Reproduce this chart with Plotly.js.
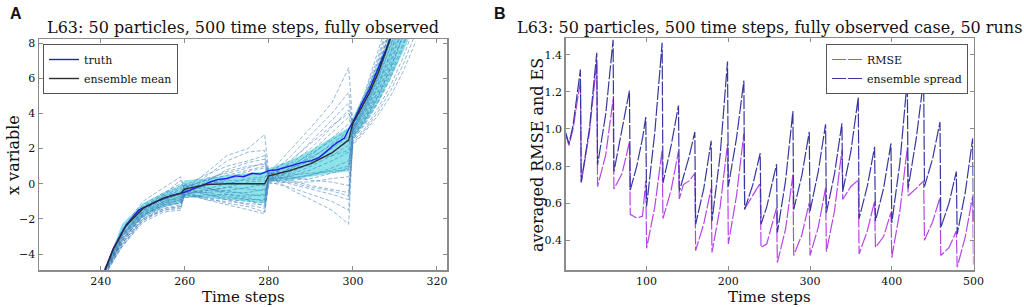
<!DOCTYPE html>
<html>
<head>
<meta charset="utf-8">
<script src="https://cdn.plot.ly/plotly-3.0.1.min.js"></script>
<style>html,body{margin:0;padding:0;background:#fff;}#chart{width:1024px;height:307px;}</style>
</head>
<body>
<div id="chart"></div>
<script>
// ---------- Panel A: L63 particle filter, x variable ----------
const tTruth = [241,243,246,249,253,257,260,262,264,266,268,270,272,274,276,278,280,282,284,286,288,290,292,294,296,298,299,300,302,304,306,308,309];
const truthX = [-4.88,-3.66,-2.35,-1.5,-1.03,-0.66,-0.47,-0.3,-0.1,0.1,0.25,0.3,0.45,0.4,0.6,0.55,0.75,0.8,0.94,1.05,1.22,1.3,1.5,1.9,2.3,2.6,3.1,3.5,4.5,5.4,6.5,7.7,8.4];
const tMean = [241,243,246,250,255,259,260,265,270,275,279,280,285,290,295,299,300,302,304,306,308,309];
const meanX = [-4.9,-3.7,-2.4,-1.4,-0.8,-0.55,-0.3,-0.05,0.0,0.0,0.0,0.45,0.75,1.15,1.75,2.5,3.45,4.3,5.2,6.3,7.6,8.3];
const tBand = [241,245,250,255,259,260,265,270,275,279,280,285,290,295,299,300,303,306,309,312,315];
const bandLow = [-4.9,-3.0,-1.9,-1.3,-1.1,-0.8,-0.8,-0.9,-1.0,-1.1,0.1,0.2,0.4,0.6,0.7,2.6,3.5,4.6,6.0,7.5,9.2];
const bandHigh = [-4.9,-2.3,-1.1,-0.5,-0.1,0.2,0.3,0.5,0.6,0.7,0.9,1.3,1.9,2.6,3.2,3.8,5.2,6.8,8.6,10.5,12.0];
const tPart = [241,245,250,255,259,260,265,270,275,279,280,285,290,295,299,300,303,306,309,312,315];
const p01 = [-4.8,-2.6,-1.0,-0.2,0.4,-0.3,0.6,1.6,2.0,2.8,0.6,1.9,3.2,4.6,6.6,3.4,5.2,7.2,9.4,12,15];
const p02 = [-5.0,-3.0,-1.4,-0.6,0.2,-0.4,0.4,1.3,1.8,1.9,0.5,1.5,2.8,4.0,5.2,3.3,5.0,6.9,9.0,11.5,14];
const p03 = [-4.9,-2.9,-1.5,-0.8,-0.3,-0.5,0.1,0.8,1.2,1.4,0.4,1.2,2.4,3.6,4.6,3.1,4.6,6.4,8.4,10.8,13.5];
const p04 = [-5.0,-3.2,-1.7,-1.0,-0.5,-0.2,0.2,0.5,0.8,1.0,0.6,1.1,2.0,3.2,4.2,3.0,4.4,6.1,8.1,10.4,13];
const p05 = [-5.1,-3.3,-1.8,-1.1,-0.7,-0.3,-0.1,0.3,0.5,0.6,0.3,0.9,1.8,2.9,3.8,2.9,4.3,5.9,7.8,10.0,12.5];
const p06 = [-4.9,-3.1,-1.6,-0.9,-0.6,-0.6,-0.3,0.0,0.3,0.4,0.5,0.8,1.6,2.6,3.4,3.2,4.7,6.5,8.6,11,14];
const p07 = [-5.0,-3.4,-1.9,-1.2,-0.9,-0.4,-0.4,-0.2,0.1,0.2,0.2,0.7,1.4,2.3,3.0,2.8,4.0,5.5,7.2,9.3,11.8];
const p08 = [-5.2,-3.5,-2.0,-1.3,-1.0,-0.5,-0.5,-0.4,-0.2,0.0,0.4,0.6,1.2,2.0,2.7,2.7,3.8,5.2,6.8,8.8,11];
const p09 = [-5.0,-3.3,-1.8,-1.2,-1.1,-0.1,-0.2,-0.5,-0.5,-0.3,0.1,0.5,1.0,1.6,2.2,3.0,4.2,5.7,7.5,9.6,12];
const p10 = [-5.1,-3.6,-2.1,-1.4,-1.2,-0.7,-0.7,-0.6,-0.7,-0.6,0.3,0.4,0.8,1.3,1.8,2.6,3.6,4.9,6.4,8.3,10.5];
const p11 = [-4.9,-3.2,-1.7,-1.1,-0.8,-0.8,-0.6,-0.8,-0.9,-0.9,0.5,0.3,0.5,0.9,1.3,2.9,4.1,5.6,7.4,9.5,12];
const p12 = [-5.0,-3.4,-2.0,-1.5,-1.3,-0.6,-0.9,-1.0,-1.1,-1.2,0.2,0.2,0.3,0.6,0.9,2.5,3.4,4.6,6.0,7.8,10];
const p13 = [-5.2,-3.6,-2.2,-1.6,-1.5,-0.5,-0.8,-1.1,-1.3,-1.6,0.0,0.1,0.1,0.3,0.4,2.4,3.2,4.3,5.6,7.2,9.2];
const p14 = [-5.0,-3.2,-1.9,-1.3,-1.1,-0.3,-0.6,-0.9,-1.0,-1.1,0.6,0.4,0.2,0.1,-0.1,2.8,3.9,5.3,7.0,9.0,11.3];
const p15 = [-4.8,-3.0,-1.6,-1.0,-0.7,-0.2,-0.3,-0.4,-0.6,-0.7,0.4,0.2,-0.1,-0.3,-0.5,2.3,3.1,4.1,5.3,6.8,8.6];
const p16 = [-5.1,-3.3,-1.8,-1.1,-0.9,0.0,-0.2,-0.6,-0.8,-1.0,0.3,0.0,-0.3,-0.6,-0.9,2.2,3.0,3.9,5.0,6.4,8.1];
const p17 = [-5.0,-3.1,-1.7,-1.0,-0.8,-0.4,-0.9,-1.2,-1.5,-1.7,0.1,-0.2,-0.6,-1.0,-1.5,3.1,4.5,6.2,8.2,10.6,13.3];
const p18 = [-4.9,-3.0,-1.5,-0.8,-0.5,-0.5,-0.1,0.2,0.2,0.3,0.8,0.5,0.6,0.7,0.8,3.4,5.0,7.0,9.2,11.8,14.8];
const p19 = [-5.0,-3.4,-2.0,-1.4,-1.3,-0.6,-0.8,-0.9,-1.2,-1.4,0.4,-0.3,-0.9,-1.5,-2.3,2.6,3.7,5.0,6.6,8.5,10.8];
const p20 = [-4.9,-2.8,-1.3,-0.6,-0.1,-0.1,0.5,1.0,1.3,1.6,0.2,0.9,1.3,1.6,1.9,3.3,4.9,6.7,8.8,11.3,14.2];
const p21 = [-5.0,-3.0,-1.6,-0.7,-0.4,-0.7,0.3,0.6,0.9,1.2,0.7,1.3,2.3,3.3,4.0,3.5,5.3,7.5,9.8,12.5,15.5];
const p22 = [-5.1,-3.2,-1.8,-1.2,-0.9,-0.6,-0.4,-0.2,-0.3,-0.4,0.3,0.3,0.5,0.8,1.0,2.7,3.7,5.0,6.6,8.5,10.7];
const p23 = [-4.9,-2.7,-1.2,-0.5,0.0,-0.2,0.2,0.7,1.0,1.1,0.5,1.0,1.7,2.5,3.1,3.2,4.8,6.6,8.7,11.1,13.9];
const p24 = [-5.0,-3.1,-1.5,-0.9,-0.6,-0.3,0.0,0.1,0.0,-0.1,0.6,0.7,1.1,1.8,2.4,3.0,4.3,6.0,7.9,10.1,12.8];
const p25 = [-5.1,-3.5,-2.1,-1.5,-1.4,-0.4,-0.5,-0.7,-0.9,-1.3,0.2,0.1,-0.2,-0.4,-0.7,2.5,3.5,4.7,6.2,8.0,10.2];
const p26 = [-4.8,-2.9,-1.4,-0.7,-0.2,-0.4,0.0,0.3,0.7,0.9,0.4,0.8,1.5,2.2,2.9,3.1,4.5,6.2,8.2,10.5,13.2];
const particles = [p01,p02,p03,p04,p05,p06,p07,p08,p09,p10,p11,p12,p13,p14,p15,p16,p17,p18,p19,p20,p21,p22,p23,p24,p25,p26];
const ticksA_x = [240,260,280,300,320];
const ticksA_y = [-4,-2,0,2,4,6,8];

// ---------- Panel B: averaged RMSE and ensemble spread over 50 runs ----------
const tB = [1,5,10,19, 20,30,39, 40,50,59, 60,70,79, 80,88,95,99, 100,110,119, 120,130,139, 140,145,152,159,
  160,170,179, 180,190,199, 200,210,219, 220,230,239, 240,247,259, 260,270,279, 280,290,299, 300,310,319,
  320,330,339, 340,350,359, 360,370,379, 380,390,399, 400,410,419, 420,430,439, 440,450,459, 460,470,479, 480,490,499, 500];
const spreadB = [0.98,0.92,1.02,1.32, 0.714,1.0,1.41, 0.806,1.08,1.48, 0.77,1.0,1.206, 0.67,0.8,0.95,1.064, 0.584,0.98,1.464, 0.708,0.91,1.126, 0.664,0.74,0.85,0.984,
  0.486,0.68,0.936, 0.504,0.86,1.363, 0.69,0.95,1.26, 0.566,0.70,0.869, 0.486,0.58,0.81, 0.442,0.72,1.096, 0.566,0.75,0.984, 0.557,0.77,1.025,
  0.549,0.76,1.03, 0.664,0.88,1.17, 0.517,0.69,0.904, 0.504,0.68,0.922, 0.493,0.82,1.267, 0.68,0.95,1.268, 0.69,0.84,1.037, 0.468,0.6,0.77, 0.433,0.66,0.949, 0.50];
const rmseB = [0.97,0.91,1.0,1.26, 0.71,0.98,1.36, 0.69,0.86,1.16, 0.676,0.76,0.93, 0.54,0.52,0.53,0.72, 0.357,0.58,0.886, 0.517,0.67,0.88, 0.623,0.70,0.72,0.76,
  0.344,0.49,0.68, 0.335,0.58,0.92, 0.38,0.64,0.975, 0.57,0.64,0.708, 0.362,0.38,0.575, 0.28,0.46,0.753, 0.318,0.43,0.602, 0.318,0.47,0.682,
  0.339,0.56,0.886, 0.62,0.69,0.725, 0.326,0.45,0.611, 0.362,0.42,0.55, 0.307,0.56,0.90, 0.64,0.68,0.72, 0.40,0.50,0.63, 0.318,0.36,0.45, 0.255,0.42,0.637, 0.27];
const ticksB_x = [100,200,300,400,500];
const ticksB_y = [0.4,0.6,0.8,1.0,1.2,1.4];

const SERIF = 'DejaVu Serif, serif';
const traces = [];
// cyan band
traces.push({x: tBand, y: bandLow, mode:'lines', line:{width:0, color:'rgba(0,0,0,0)'}, showlegend:false, hoverinfo:'skip', xaxis:'x', yaxis:'y'});
traces.push({x: tBand, y: bandHigh, mode:'lines', fill:'tonexty', fillcolor:'rgb(140,228,234)', line:{width:0, color:'rgba(0,0,0,0)'}, showlegend:false, hoverinfo:'skip', xaxis:'x', yaxis:'y'});
particles.forEach(p => traces.push({x: tPart, y: p, mode:'lines', line:{width:1, color:'rgba(60,125,185,0.55)', dash:'4px,2px'}, showlegend:false, hoverinfo:'skip', xaxis:'x', yaxis:'y'}));
traces.push({x: tTruth, y: truthX, name:'truth', mode:'lines', line:{width:1.4, color:'rgb(30,30,235)'}, xaxis:'x', yaxis:'y', legend:'legend'});
traces.push({x: tMean, y: meanX, name:'ensemble mean', mode:'lines', line:{width:1.4, color:'rgb(45,45,45)'}, xaxis:'x', yaxis:'y', legend:'legend'});
traces.push({x: tB, y: rmseB, name:'RMSE', mode:'lines', line:{width:1.2, color:'rgb(180,70,230)', dash:'14px,2px'}, xaxis:'x2', yaxis:'y2', legend:'legend2'});
traces.push({x: tB, y: spreadB, name:'ensemble spread', mode:'lines', line:{width:1.2, color:'rgb(55,55,160)', dash:'14px,2px'}, xaxis:'x2', yaxis:'y2', legend:'legend2'});

const axCommon = {showline:true, mirror:'ticks', linecolor:'#8c8c8c', linewidth:1.5, ticks:'inside', ticklen:4, tickcolor:'#8c8c8c',
  showgrid:false, zeroline:false, tickfont:{family:SERIF, size:11, color:'#111'}};
const W = 1024, H = 307;
const TF = {family:SERIF, size:16, color:'#111'};
const XT = {family:SERIF, size:15, color:'#111'};
const yBot = 270;
const layout = {
  width: W, height: H, margin:{l:0,r:0,t:0,b:0}, paper_bgcolor:'#fff', plot_bgcolor:'#fff',
  xaxis: Object.assign({}, axCommon, {domain:[39/W, 447/W], range:[225.3, 322.4], tickvals: ticksA_x, anchor:'y'}),
  yaxis: Object.assign({}, axCommon, {domain:[(H-yBot)/H, (H-39)/H], range:[-4.9, 8.23], tickvals: ticksA_y, anchor:'x'}),
  xaxis2: Object.assign({}, axCommon, {domain:[565.7/W, 973.5/W], range:[1, 500], tickvals: ticksB_x, anchor:'y2'}),
  yaxis2: Object.assign({}, axCommon, {domain:[(H-yBot)/H, (H-38)/H], range:[0.24, 1.49], tickvals: ticksB_y, tickformat:'.1f', anchor:'x2'}),
  legend: {x:43/W, y:(H-44)/H, xanchor:'left', yanchor:'top', bgcolor:'#fff', bordercolor:'#555', borderwidth:1, traceorder:'normal',
    font:{family:SERIF, size:11, color:'#111'}, itemwidth:30, tracegroupgap:0},
  legend2: {x:968/W, y:(H-44)/H, xanchor:'right', yanchor:'top', bgcolor:'#fff', bordercolor:'#555', borderwidth:1, traceorder:'normal',
    font:{family:SERIF, size:11, color:'#111'}, itemwidth:30, tracegroupgap:0},
  annotations: [
    {text:'L63: 50 particles, 500 time steps, fully observed', xref:'paper', yref:'paper', x:243/W, y:(H-27)/H, xanchor:'center', yanchor:'middle', showarrow:false, font:TF},
    {text:'L63: 50 particles, 500 time steps, fully observed case, 50 runs', xref:'paper', yref:'paper', x:769/W, y:(H-27)/H, xanchor:'center', yanchor:'middle', showarrow:false, font:TF},
    {text:'Time steps', xref:'paper', yref:'paper', x:243/W, y:0, xanchor:'center', yanchor:'bottom', borderpad:0, showarrow:false, font:XT},
    {text:'Time steps', xref:'paper', yref:'paper', x:769/W, y:0, xanchor:'center', yanchor:'bottom', borderpad:0, showarrow:false, font:XT},
    {text:'x variable', xref:'paper', yref:'paper', x:13/W, y:(H-155)/H, xanchor:'center', yanchor:'middle', textangle:-90, showarrow:false, font:TF},
    {text:'averaged RMSE and ES', xref:'paper', yref:'paper', x:537/W, y:(H-155)/H, xanchor:'center', yanchor:'middle', textangle:-90, showarrow:false, font:TF},
    {text:'<b>A</b>', xref:'paper', yref:'paper', x:16/W, y:(H-13)/H, xanchor:'center', yanchor:'middle', showarrow:false, font:{family:'Liberation Sans, Arial, sans-serif', size:16, color:'#111'}},
    {text:'<b>B</b>', xref:'paper', yref:'paper', x:500/W, y:(H-13)/H, xanchor:'center', yanchor:'middle', showarrow:false, font:{family:'Liberation Sans, Arial, sans-serif', size:16, color:'#111'}}
  ]
};
Plotly.newPlot('chart', traces, layout, {displayModeBar:false, staticPlot:true});
</script>
</body>
</html>
